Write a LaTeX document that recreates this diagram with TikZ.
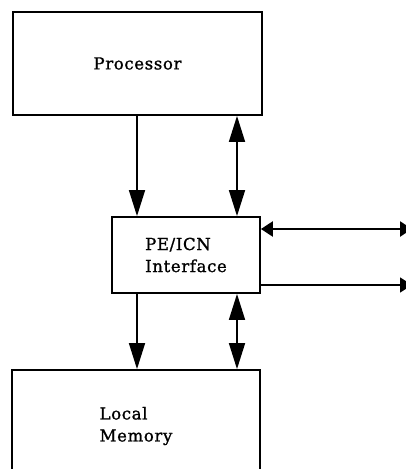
\documentclass[tikz,border=0pt]{standalone}
\usepackage{fontspec}
\setmainfont{DejaVu Serif}[LetterSpace=4,FakeBold=1.2]
\usetikzlibrary{arrows.meta,positioning}

\tikzset{
  block/.style={draw, line width=1.8pt, inner sep=0pt, align=left,
    font=\fontsize{16.5}{22}\selectfont},
  link/.style={line width=1.6pt, -{Triangle[length=26pt,width=16pt]}},
  duplex/.style={line width=1.6pt,
    {Triangle[length=26pt,width=16pt]}-{Triangle[length=26pt,width=16pt]}},
  bus/.style={line width=2.4pt,
    {Triangle[length=12pt,width=15pt]}-{Triangle[length=12pt,width=15pt]}},
  outlink/.style={line width=1.6pt, -{Triangle[length=12pt,width=15pt]}}
}

\begin{document}
\begin{tikzpicture}
  \useasboundingbox (0,0) rectangle (406pt,-469pt);

  \node[block, minimum width=249pt, minimum height=103pt] (processor) at (137.5pt,-63.5pt) {Processor};
  \node[block, minimum width=148pt, minimum height=76pt] (interface) at (186pt,-255pt) {PE/ICN\\Interface};
  \node[block, minimum width=248pt, minimum height=112pt] (memory) at (136pt,-426pt) {Local\\Memory};

  % columns of the vertical links
  \coordinate (lcol) at (137pt,0);
  \coordinate (rcol) at (237pt,0);
  % network side ends
  \coordinate (net1) at (412pt,-229pt);
  \coordinate (net2) at (412pt,-285pt);

  \draw[link] (processor.south -| lcol) -- (interface.north -| lcol);
  \draw[duplex] (processor.south -| rcol) -- (interface.north -| rcol);
  \draw[link] (interface.south -| lcol) -- (memory.north -| lcol);
  \draw[duplex] (interface.south -| rcol) -- (memory.north -| rcol);

  \draw[bus] (interface.east |- net1) -- (net1);
  \draw[outlink] (interface.east |- net2) -- (net2);
\end{tikzpicture}
\end{document}
